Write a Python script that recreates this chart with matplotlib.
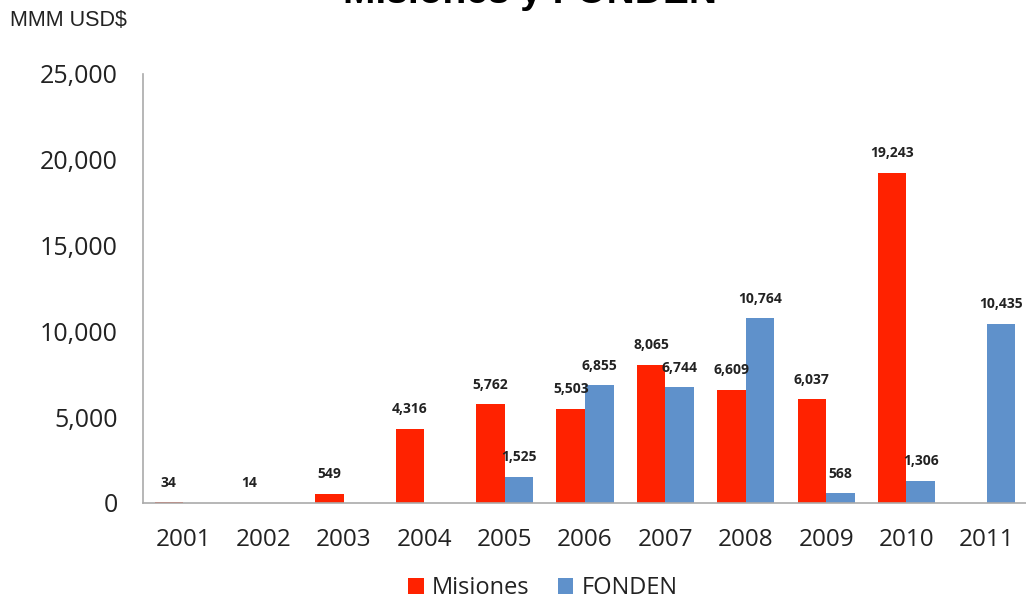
import matplotlib
matplotlib.use("Agg")
import matplotlib.pyplot as plt
import numpy as np

years = ["2001", "2002", "2003", "2004", "2005", "2006", "2007", "2008", "2009", "2010", "2011"]
misiones = [34, 14, 549, 4316, 5762, 5503, 8065, 6609, 6037, 19243, None]
fonden = [None, None, None, None, 1525, 6855, 6744, 10764, 568, 1306, 10435]
yticks = [0, 5000, 10000, 15000, 20000, 25000]

plt.rcParams['font.family'] = ['Open Sans', 'DejaVu Sans']

fig = plt.figure(figsize=(10.26, 6.03), dpi=100)
ax = fig.add_axes([143/1026, 100/603, 884/1026, 429/603])

red = "#FF2200"
blue = "#5F91CB"
w = 0.355
x = np.arange(len(years))

def vals(v):
    return np.array([np.nan if a is None else a for a in v], dtype=float)

m = vals(misiones)
f = vals(fonden)
bm = ax.bar(x - w/2, m, w, color=red, label="Misiones")
bf = ax.bar(x + w/2, f, w, color=blue, label="FONDEN")

for xs, vs in ((x - w/2, m), (x + w/2, f)):
    for xi, v in zip(xs, vs):
        if np.isnan(v):
            continue
        ax.annotate(f"{int(v):,}", (xi, v), xytext=(0, 9), textcoords="offset points",
                    ha="center", va="bottom", fontsize=10, fontweight="bold", color="#222222")

ax.set_xlim(-0.5, 10.5)
ax.set_ylim(0, 25000)
ax.set_yticks(yticks)
ax.set_yticklabels([f"{t:,}" for t in yticks], fontsize=18)
ax.set_xticks(x)
ax.set_xticklabels(years, fontsize=17.5)
ax.tick_params(axis="both", length=0, colors="#222222")
ax.tick_params(axis="x", pad=18)
ax.tick_params(axis="y", pad=18)
for s in ("top", "right"):
    ax.spines[s].set_visible(False)
for s in ("left", "bottom"):
    ax.spines[s].set_color("#AAAAAA")
    ax.spines[s].set_linewidth(1.2)

fig.legend(handles=[bm, bf], loc="center", bbox_to_anchor=(543/1026, 1 - 588/603), ncol=2,
           frameon=False, fontsize=17, handlelength=0.65, handleheight=0.65, handletextpad=0.35,
           columnspacing=1.2, labelcolor="#222222")

fig.text(10/1026, 1 - 20/603, "MMM USD$", fontsize=15.5, family="Liberation Sans", va="center", ha="left",
         color="#222222")
fig.text(530/1026, 1 - 3/603, "Misiones y FONDEN", fontsize=28, fontweight="bold",
         family="Liberation Sans", ha="center", va="baseline")

fig.savefig("out.png", dpi=100)
